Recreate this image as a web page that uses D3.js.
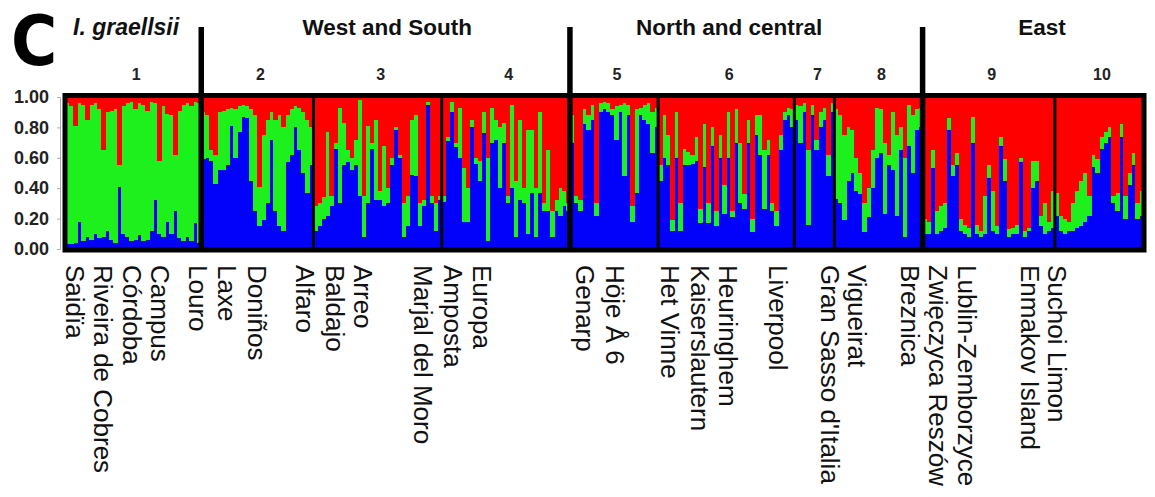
<!DOCTYPE html>
<html>
<head>
<meta charset="utf-8">
<script src="https://cdn.jsdelivr.net/npm/d3@7"></script>
<style>
  body { margin: 0; background: #fff; }
  svg { display: block; font-family: "Liberation Sans", Arial, sans-serif; }
</style>
</head>
<body>
<div id="chart"></div>
<script>
// STRUCTURE membership (percent) per individual, grouped by population cluster 1..10
const groupIds = ["1", "2", "3", "4", "5", "6", "7", "8", "9", "10"];

const blueQ = [
  [3,3,4,18,5,8,6,10,7,8,12,6,4,41,10,8,5,6,9,5,6,12,32,10,8,18,10,25,7,5,8,5,17,4],
  [59,60,58,43,52,52,55,81,60,77,87,86,45,25,15,19,30,72,25,15,12,57,62,80,65,50,37,55],
  [12,15,20,22,28,66,30,55,57,52,55,35,8,30,66,32,32,28,30,55,78,60,8,15,49,48,15,28,95,30,12,32],
  [31,71,90,67,60,18,18,80,56,45,76,5,70,72,40,70,30,40,8,32,30,10,37,8,37,25,25,8,25,22,28,25],
  [70,30,25,82,78,85,22,90,92,90,88,72,90,48,88,18,37,88,85,82,63,80],
  [45,60,55,12,60,12,55,55,56,58,17,54,17,68,15,60,23,60,21,70,30,26,70,11,75,62,26,62,25,15,65,85,88,80],
  [85,70,90,16,88,65,80,85,48,90],
  [33,30,19,45,50,38,36,11,21,40,60,63,23,55,52,22,65,8,68,50,78,80],
  [10,10,53,10,12,14,78,48,55,12,10,8,70,10,8,10,47,12,10,68,45,8,10,10,57,8,12,40,45,15,10,12,14],
  [22,12,10,12,12,14,15,18,22,54,50,66,70,74,30,25,74,20,42,55,20,22]
];

const greenQ = [
  [93,91,77,78,90,77,89,86,85,57,78,85,88,14,84,88,92,86,87,90,85,85,64,48,86,71,78,37,84,90,88,89,80,92],
  [31,28,7,19,38,39,37,12,32,17,8,8,47,63,26,56,55,18,60,73,68,31,30,14,28,40,48,25],
  [16,15,14,55,7,4,63,28,8,8,17,63,27,51,4,53,6,40,10,5,2,2,22,20,36,40,15,4,2,5,18,3],
  [4,3,7,3,33,35,22,5,4,13,14,55,23,13,40,13,5,55,37,53,10,68,41,32,53,5,40,17,7,18,10,5],
  [18,5,7,10,10,10,8,6,5,6,4,22,5,48,7,10,55,5,10,14,27,13],
  [10,28,20,7,30,18,11,9,6,16,9,28,13,12,10,15,19,30,4,22,40,10,15,9,13,26,39,10,5,10,10,5,5,12],
  [10,24,6,49,7,7,10,8,14,6],
  [59,58,56,35,28,22,14,19,19,25,33,29,47,7,38,53,15,52,27,38,14,13],
  [10,8,12,15,16,16,8,7,8,8,6,6,17,6,4,25,8,26,5,6,14,5,4,6,3,4,2,18,13,7,20,6,24],
  [15,10,10,6,18,24,30,32,13,8,9,8,7,6,5,12,8,15,8,8,10,16]
];

// regional headers: name and anchor (individual index)
const regionNames = ["I. graellsii", "West and South", "North and central", "East"];
const regionAt = [2, 80.4, 165.7, 243.8];
const regionEnds = [1, 4, 8]; // thick separator after these groups

const popNames = ["Saidïa", "Riveira de Cobres", "Córdoba", "Campus", "Louro", "Laxe", "Doniños",
  "Alfaro", "Baldajo", "Arreo", "Marjal del Moro", "Amposta", "Europa", "Genarp", "Höje Å 6",
  "Het Vinne", "Kaiserslautern", "Heuringhem", "Liverpool", "Gran Sasso d'Italia", "Vigueirat",
  "Breznica", "Zwięczyca Reszów", "Lublin-Zemborzyce", "Enmakov Island", "Suchoi Limon"];
const popAt = [2.5, 9.5, 16.7, 23.7, 33.2, 40.4, 47.9, 59.9, 67.4, 74.4, 89.3, 96.8, 104.1,
  129.8, 137.3, 151.0, 158.5, 165.5, 177.9, 190.9, 197.7, 210.9, 217.9, 225.1, 240.8, 247.6];

const yTicks = [0, 0.2, 0.4, 0.6, 0.8, 1];
const clusterColors = { blue: "#0202fa", green: "#1ef01e", red: "#fe0000" };

const width = 1155;
const height = 497;

const rows = [];
const groupStarts = [];
blueQ.forEach((grp, g) => {
    groupStarts.push(rows.length);
    grp.forEach((b, k) => {
        const gr = greenQ[g][k];
        rows.push({ i: rows.length, blue: b / 100, green: gr / 100, red: (100 - b - gr) / 100 });
    });
});
const total = rows.length;
groupStarts.push(total);

const x = d3.scaleLinear().domain([0, total]).range([65, 1143]);
const y = d3.scaleLinear().domain([0, 1]).range([249, 97]);

const svg = d3.select('#chart').append('svg')
    .attr('width', width)
    .attr('height', height);

const series = d3.stack().keys(["blue", "green", "red"])(rows);

svg.append('g')
    .selectAll('g')
    .data(series)
    .join('g')
    .attr('fill', s => clusterColors[s.key])
    .selectAll('rect')
    .data(s => s)
    .join('rect')
    .attr('shape-rendering', 'crispEdges')
    .attr('x', d => x(d.data.i))
    .attr('width', d => x(d.data.i + 1) - x(d.data.i) + 0.6)
    .attr('y', d => y(d[1]))
    .attr('height', d => Math.max(0, y(d[0]) - y(d[1])));

// y axis
const yAxis = svg.append('g')
    .attr('transform', 'translate(60,0)')
    .call(d3.axisLeft(y).tickValues(yTicks).tickFormat(d3.format('.2f')).tickSize(3).tickPadding(8));
yAxis.select('.domain').attr('stroke', '#aaa');
yAxis.selectAll('.tick line').attr('stroke', '#aaa');
yAxis.selectAll('.tick text')
    .attr('font-family', '"Liberation Sans", Arial, sans-serif')
    .attr('font-size', 18)
    .attr('font-weight', 'bold')
    .attr('fill', '#222');

// group separators
svg.append('g')
    .selectAll('line')
    .data(groupStarts.slice(1, -1))
    .join('line')
    .attr('x1', d => x(d)).attr('x2', d => x(d))
    .attr('y1', 95.5).attr('y2', 250)
    .attr('stroke', '#000')
    .attr('stroke-width', 3);

// frame
svg.append('rect')
    .attr('x', x(0)).attr('y', 95.5)
    .attr('width', x(total) - x(0) + 1)
    .attr('height', 154.5)
    .attr('fill', 'none')
    .attr('stroke', '#000')
    .attr('stroke-width', 5);

// region separators
svg.append('g')
    .selectAll('line')
    .data(regionEnds.map(g => groupStarts[g]))
    .join('line')
    .attr('x1', d => x(d)).attr('x2', d => x(d))
    .attr('y1', 27).attr('y2', 252)
    .attr('stroke', '#000')
    .attr('stroke-width', 5.5);

// group numbers
svg.append('g')
    .selectAll('text')
    .data(groupIds)
    .join('text')
    .attr('x', (d, g) => x((groupStarts[g] + groupStarts[g + 1]) / 2) + 3)
    .attr('y', 80)
    .attr('text-anchor', 'middle')
    .attr('font-size', 16)
    .attr('font-weight', 'bold')
    .attr('fill', '#222')
    .text(d => d);

// region headers
svg.append('g')
    .selectAll('text')
    .data(regionNames)
    .join('text')
    .attr('x', (d, k) => x(regionAt[k]))
    .attr('y', 35)
    .attr('text-anchor', (d, k) => k === 0 ? 'start' : 'middle')
    .attr('font-size', (d, k) => k === 0 ? 23 : 22.5)
    .attr('font-weight', 'bold')
    .attr('font-style', (d, k) => k === 0 ? 'italic' : 'normal')
    .attr('fill', '#111')
    .text(d => d);

// panel letter
svg.append('text')
    .attr('x', 11)
    .attr('y', 65)
    .attr('font-family', '"DejaVu Sans Condensed", "DejaVu Sans", sans-serif')
    .attr('font-size', 70)
    .attr('font-weight', 'bold')
    .attr('fill', '#000')
    .text('C');

// population labels
svg.append('g')
    .selectAll('text')
    .data(popNames)
    .join('text')
    .attr('transform', (d, k) => `translate(${x(popAt[k])},265) rotate(90)`)
    .attr('dy', '0.35em')
    .attr('font-size', 26)
    .attr('fill', '#111')
    .text(d => d);
</script>
</body>
</html>
